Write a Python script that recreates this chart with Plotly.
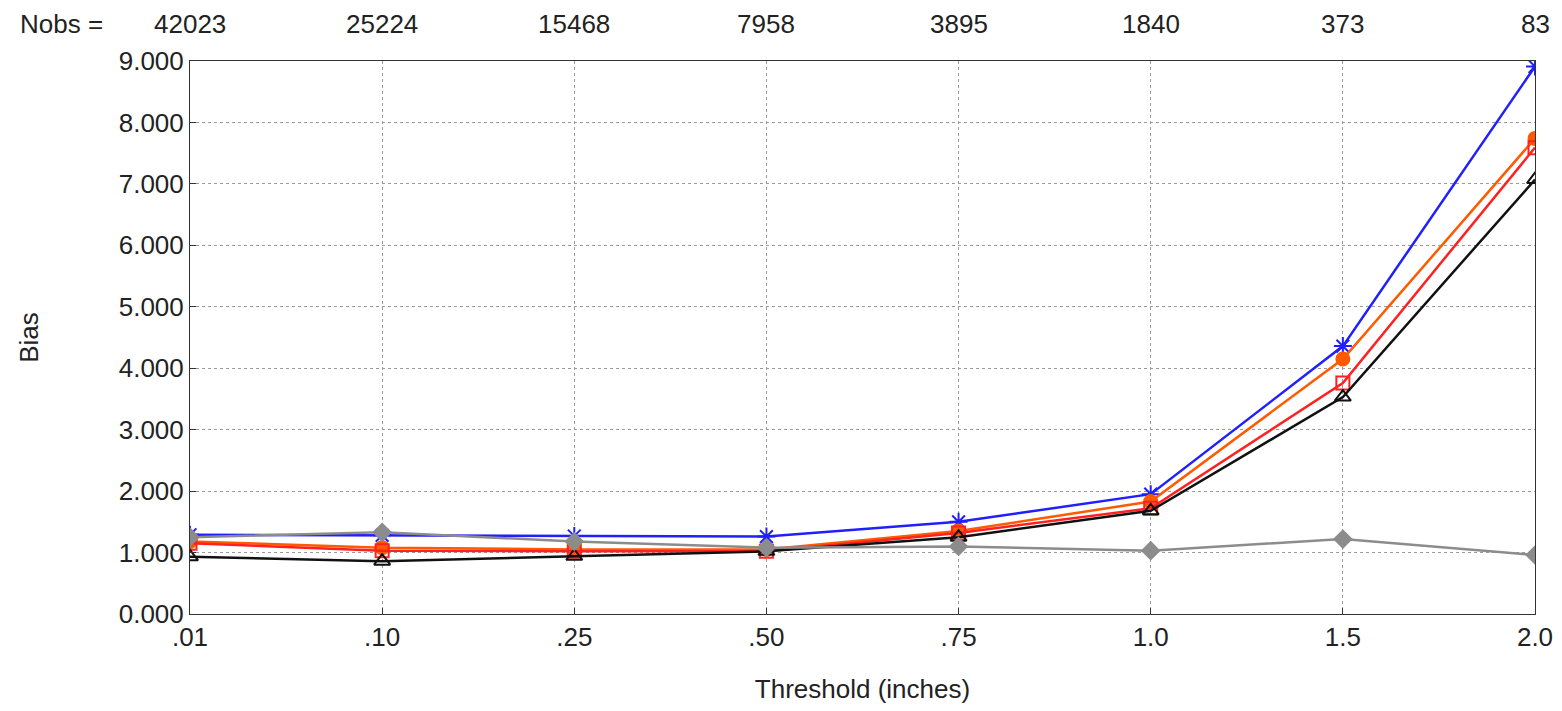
import plotly.graph_objects as go

thresholds = [".01", ".10", ".25", ".50", ".75", "1.0", "1.5", "2.0"]
nobs = ["42023", "25224", "15468", "7958", "3895", "1840", "373", "83"]
y_ticks = [0, 1, 2, 3, 4, 5, 6, 7, 8, 9]

blue = [1.29, 1.28, 1.27, 1.26, 1.50, 1.95, 4.36, 8.91]
orange = [1.18, 1.08, 1.05, 1.05, 1.35, 1.83, 4.15, 7.74]
red = [1.15, 1.03, 1.02, 1.02, 1.32, 1.72, 3.76, 7.59]
black = [0.93, 0.86, 0.94, 1.02, 1.25, 1.68, 3.53, 7.07]
gray = [1.25, 1.33, 1.18, 1.08, 1.10, 1.03, 1.22, 0.96]

xs = list(range(len(thresholds)))
FONT = "Liberation Sans, Arial, sans-serif"
FS = 26

fig = go.Figure()
series = [
    (blue, "#1f1fff", "asterisk-open", 15),
    (orange, "#ff5a00", "circle", 13),
    (red, "#ff2020", "square-open", 13),
    (black, "#111111", "triangle-up-open", 14),
    (gray, "#8c8c8c", "diamond", 13),
]
for vals, col, sym, sz in series:
    fig.add_trace(go.Scatter(
        x=xs, y=vals, mode="lines+markers",
        line=dict(color=col, width=2.5),
        marker=dict(symbol=sym, size=sz, color=col, line=dict(color=col, width=2)),
        showlegend=False,
    ))

annotations = [dict(
    text=n, xref="x", yref="paper", x=x, y=1.0,
    xanchor="center", yanchor="bottom", yshift=20, showarrow=False,
    font=dict(size=FS),
) for x, n in zip(xs, nobs)]
annotations.append(dict(
    text="Nobs =", xref="paper", yref="paper", x=-0.063, y=1.0,
    xanchor="right", yanchor="bottom", yshift=20, showarrow=False,
    font=dict(size=FS),
))

fig.update_layout(
    width=1562, height=711,
    margin=dict(l=190, r=27, t=61, b=97),
    paper_bgcolor="white", plot_bgcolor="white",
    font=dict(family=FONT, size=FS, color="#222"),
    xaxis=dict(
        range=[0, 7], tickmode="array", tickvals=xs, ticktext=thresholds,
        showgrid=True, gridcolor="#9a9a9a", griddash="dot", gridwidth=1,
        showline=True, linecolor="#333", linewidth=1, mirror=True,
        ticks="inside", ticklen=6, tickcolor="#333",
        zeroline=False, automargin=False,
        title=dict(text="Threshold (inches)", font=dict(size=FS), standoff=28),
    ),
    yaxis=dict(
        range=[0, 9], tickmode="array", tickvals=y_ticks,
        ticktext=[f"{v:.3f}" for v in y_ticks],
        showgrid=True, gridcolor="#9a9a9a", griddash="dot", gridwidth=1,
        showline=True, linecolor="#333", linewidth=1, mirror=True,
        ticks="inside", ticklen=6, tickcolor="#333",
        zeroline=False, automargin=False,
        title=dict(text="Bias", font=dict(size=FS), standoff=72),
    ),
    annotations=annotations,
)

fig.write_html("out.html")
